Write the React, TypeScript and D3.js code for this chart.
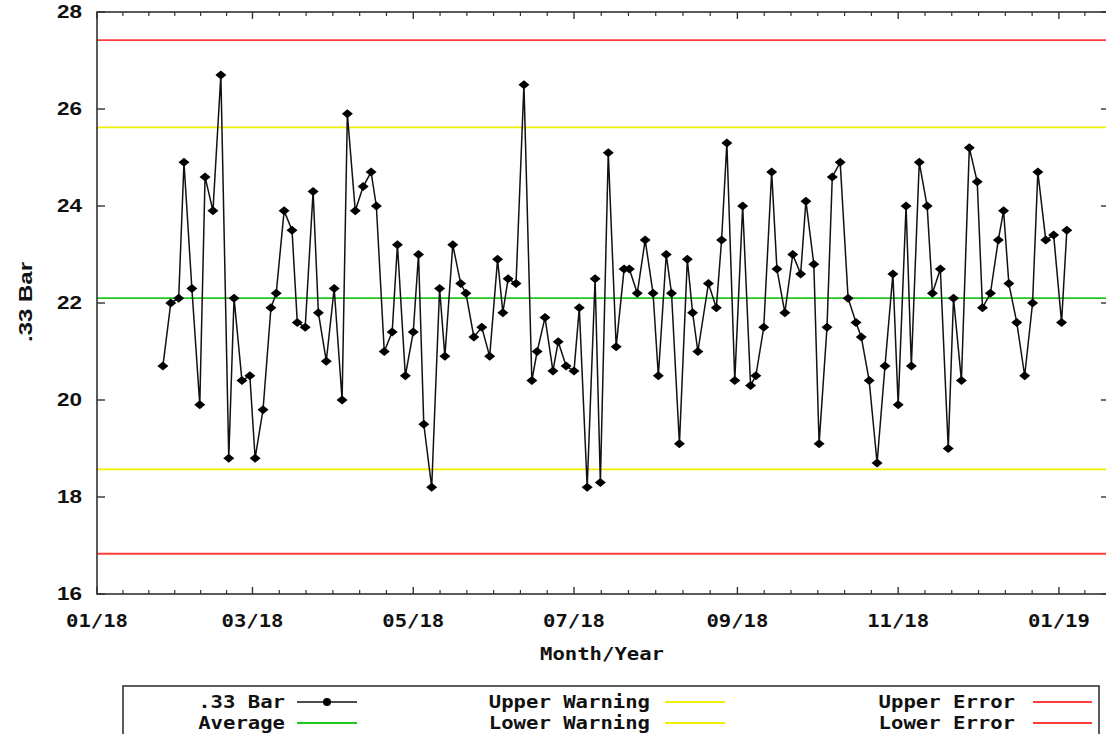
import React from 'react';
import * as d3 from 'd3';

// sample dates and .33 bar readings
const dates = [
  '2018-01-26', '2018-01-29', '2018-02-01', '2018-02-03', '2018-02-06', '2018-02-09', '2018-02-11', '2018-02-14',
  '2018-02-17', '2018-02-20', '2018-02-22', '2018-02-25', '2018-02-28', '2018-03-02', '2018-03-05', '2018-03-08',
  '2018-03-10', '2018-03-13', '2018-03-16', '2018-03-18', '2018-03-21', '2018-03-24', '2018-03-26', '2018-03-29',
  '2018-04-01', '2018-04-04', '2018-04-06', '2018-04-09', '2018-04-12',
  '2018-04-15', '2018-04-17', '2018-04-20', '2018-04-23', '2018-04-25', '2018-04-28', '2018-05-01', '2018-05-03',
  '2018-05-05', '2018-05-08', '2018-05-11', '2018-05-13', '2018-05-16', '2018-05-19', '2018-05-21', '2018-05-24',
  '2018-05-27', '2018-05-30', '2018-06-02', '2018-06-04', '2018-06-06', '2018-06-09', '2018-06-12', '2018-06-15',
  '2018-06-17', '2018-06-20', '2018-06-23', '2018-06-25', '2018-06-28', '2018-07-01', '2018-07-03', '2018-07-06',
  '2018-07-09', '2018-07-11', '2018-07-14', '2018-07-17', '2018-07-20', '2018-07-22',
  '2018-07-25', '2018-07-28', '2018-07-31', '2018-08-02', '2018-08-05', '2018-08-07', '2018-08-10', '2018-08-13',
  '2018-08-15', '2018-08-17', '2018-08-21', '2018-08-24', '2018-08-26', '2018-08-28', '2018-08-31', '2018-09-03',
  '2018-09-06', '2018-09-08', '2018-09-11', '2018-09-14', '2018-09-16', '2018-09-19', '2018-09-22', '2018-09-25',
  '2018-09-27', '2018-09-30', '2018-10-02', '2018-10-05', '2018-10-07', '2018-10-10', '2018-10-13', '2018-10-16',
  '2018-10-18', '2018-10-21', '2018-10-24',
  '2018-10-27', '2018-10-30', '2018-11-01', '2018-11-04', '2018-11-06', '2018-11-09', '2018-11-12', '2018-11-14',
  '2018-11-17', '2018-11-20', '2018-11-22', '2018-11-25', '2018-11-28', '2018-12-01', '2018-12-03', '2018-12-06',
  '2018-12-09', '2018-12-11', '2018-12-13', '2018-12-16', '2018-12-19', '2018-12-22', '2018-12-24', '2018-12-27',
  '2018-12-30', '2019-01-02', '2019-01-04',
];

const values = [
  20.7, 22.0, 22.1, 24.9, 22.3, 19.9, 24.6, 23.9, 26.7, 18.8,
  22.1, 20.4, 20.5, 18.8, 19.8, 21.9, 22.2, 23.9, 23.5, 21.6,
  21.5, 24.3, 21.8, 20.8, 22.3, 20.0, 25.9, 23.9, 24.4,
  24.7, 24.0, 21.0, 21.4, 23.2, 20.5, 21.4, 23.0, 19.5, 18.2,
  22.3, 20.9, 23.2, 22.4, 22.2, 21.3, 21.5, 20.9, 22.9, 21.8,
  22.5, 22.4, 26.5, 20.4, 21.0, 21.7, 20.6, 21.2, 20.7, 20.6,
  21.9, 18.2, 22.5, 18.3, 25.1, 21.1, 22.7, 22.7,
  22.2, 23.3, 22.2, 20.5, 23.0, 22.2, 19.1, 22.9, 21.8, 21.0,
  22.4, 21.9, 23.3, 25.3, 20.4, 24.0, 20.3, 20.5, 21.5, 24.7,
  22.7, 21.8, 23.0, 22.6, 24.1, 22.8, 19.1, 21.5, 24.6, 24.9,
  22.1, 21.6, 21.3, 20.4, 18.7,
  20.7, 22.6, 19.9, 24.0, 20.7, 24.9, 24.0, 22.2, 22.7, 19.0,
  22.1, 20.4, 25.2, 24.5, 21.9, 22.2, 23.3, 23.9, 22.4, 21.6,
  20.5, 22.0, 24.7, 23.3, 23.4, 21.6, 23.5,
];

const average = 22.1;
const upperWarning = 25.62;
const lowerWarning = 18.57;
const upperError = 27.42;
const lowerError = 16.83;

const yTicks = [16, 18, 20, 22, 24, 26, 28];
const xDomain = ['2018-01-01', '2019-01-20'];

const W = 1106;
const H = 734;
const margin = { left: 97, top: 12, bottom: 594, right: 1109 };

const MONO = '"DejaVu Sans Mono", monospace';
const SANS = '"Liberation Sans", Arial, sans-serif';
const RED = '#ff3b3b';
const YELLOW = '#f0f000';
const GREEN = '#1ec81e';

const parse = d3.timeParse('%Y-%m-%d');
const fmt = d3.timeFormat('%m/%y');

// gnuplot-ish bitmap text: fixed width per char
const MonoText = ({ x, y, text, anchor = 'middle', size = 18 }) => {
  const len = text.length * 12.4;
  const x0 = anchor === 'middle' ? x - len / 2 : anchor === 'end' ? x - len : x;
  return (
    <text x={x0} y={y} fontFamily={MONO} fontWeight="bold" fontSize={size}
      textLength={len} lengthAdjust="spacingAndGlyphs" fill="#111">{text}</text>
  );
};

const App = () => {
  const data = dates.map((d, i) => ({ date: parse(d), value: values[i] }));

  const x = d3.scaleTime()
    .domain(xDomain.map(d => parse(d)))
    .range([margin.left, margin.right]);

  const y = d3.scaleLinear()
    .domain([16, 28])
    .range([margin.bottom, margin.top]);

  const line = d3.line()
    .x(d => x(d.date))
    .y(d => y(d.value));

  const majors = d3.timeMonth.every(2).range(parse('2018-01-01'), parse('2019-03-02'));
  const minors = [];
  for (let i = 0; i < majors.length - 1; i++) {
    const a = x(majors[i]);
    const b = x(majors[i + 1]);
    for (let k = 1; k < 6; k++) minors.push(a + (b - a) * k / 6);
  }
  const visibleMajors = majors.filter(d => x(d) <= margin.right);
  const visibleMinors = minors.filter(p => p < margin.right);

  const limits = [
    { v: upperError, c: RED },
    { v: upperWarning, c: YELLOW },
    { v: average, c: GREEN },
    { v: lowerWarning, c: YELLOW },
    { v: lowerError, c: RED },
  ];

  const diamond = (cx, cy) => `M${cx},${cy - 4.5}L${cx + 5.5},${cy}L${cx},${cy + 4.5}L${cx - 5.5},${cy}Z`;

  const legendRows = [702, 723];
  const legendCols = [
    { textEnd: 285, x0: 297, x1: 357, items: ['.33 Bar', 'Average'], colors: ['#111', GREEN] },
    { textEnd: 650, x0: 665, x1: 725, items: ['Upper Warning', 'Lower Warning'], colors: [YELLOW, YELLOW] },
    { textEnd: 1015, x0: 1033, x1: 1092, items: ['Upper Error', 'Lower Error'], colors: [RED, RED] },
  ];

  return (
    <svg width={W} height={H} style={{ position: 'absolute', left: 0, top: 0, background: '#fff' }}>
      {/* control limits */}
      {limits.map((l, i) => (
        <line key={i} x1={margin.left} x2={margin.right} y1={y(l.v)} y2={y(l.v)}
          stroke={l.c} strokeWidth={1.8} />
      ))}

      {/* frame */}
      <rect x={margin.left} y={margin.top} width={margin.right - margin.left} height={margin.bottom - margin.top}
        fill="none" stroke="#333" strokeWidth={1.6} />

      {/* y ticks */}
      {yTicks.map(t => (
        <g key={t}>
          <line x1={margin.left} x2={margin.left + 8} y1={y(t)} y2={y(t)} stroke="#333" strokeWidth={1.4} />
          <line x1={margin.right - 8} x2={margin.right} y1={y(t)} y2={y(t)} stroke="#333" strokeWidth={1.4} />
          <text x={82} y={y(t) + 6} textAnchor="end" fontFamily={SANS} fontWeight="bold" fontSize={18}
            textLength={25} lengthAdjust="spacingAndGlyphs" fill="#111">{t}</text>
        </g>
      ))}

      {/* x ticks */}
      {visibleMajors.map((d, i) => (
        <g key={i}>
          <line x1={x(d)} x2={x(d)} y1={margin.bottom} y2={margin.bottom - 7} stroke="#333" strokeWidth={1.4} />
          <line x1={x(d)} x2={x(d)} y1={margin.top} y2={margin.top + 7} stroke="#333" strokeWidth={1.4} />
          <MonoText x={x(d)} y={627} text={fmt(d)} />
        </g>
      ))}
      {visibleMinors.map((p, i) => (
        <g key={i}>
          <line x1={p} x2={p} y1={margin.bottom} y2={margin.bottom - 4} stroke="#333" strokeWidth={1.2} />
          <line x1={p} x2={p} y1={margin.top} y2={margin.top + 4} stroke="#333" strokeWidth={1.2} />
        </g>
      ))}

      {/* series */}
      <path d={line(data)} fill="none" stroke="#111" strokeWidth={1.5} />
      {data.map((d, i) => (
        <path key={i} d={diamond(x(d.date), y(d.value))} fill="#000" />
      ))}

      {/* axis titles */}
      <text transform="translate(32,302) rotate(-90)" textAnchor="middle" fontFamily={SANS} fontWeight="bold"
        fontSize={18} textLength={80} lengthAdjust="spacingAndGlyphs" fill="#111">.33 Bar</text>
      <MonoText x={602} y={660} text="Month/Year" />

      {/* legend */}
      <rect x={123} y={686} width={976} height={60} fill="#fff" stroke="#333" strokeWidth={1.6} />
      {legendCols.map((c, ci) => legendRows.map((ry, ri) => (
        <g key={`${ci}-${ri}`}>
          <MonoText x={c.textEnd} y={ry + 6} text={c.items[ri]} anchor="end" />
          <line x1={c.x0} x2={c.x1} y1={ry} y2={ry} stroke={c.colors[ri]} strokeWidth={ci === 0 && ri === 0 ? 1.5 : 2} />
          {ci === 0 && ri === 0 && <circle cx={(c.x0 + c.x1) / 2} cy={ry} r={4} fill="#000" />}
        </g>
      )))}
    </svg>
  );
};

export default App;
